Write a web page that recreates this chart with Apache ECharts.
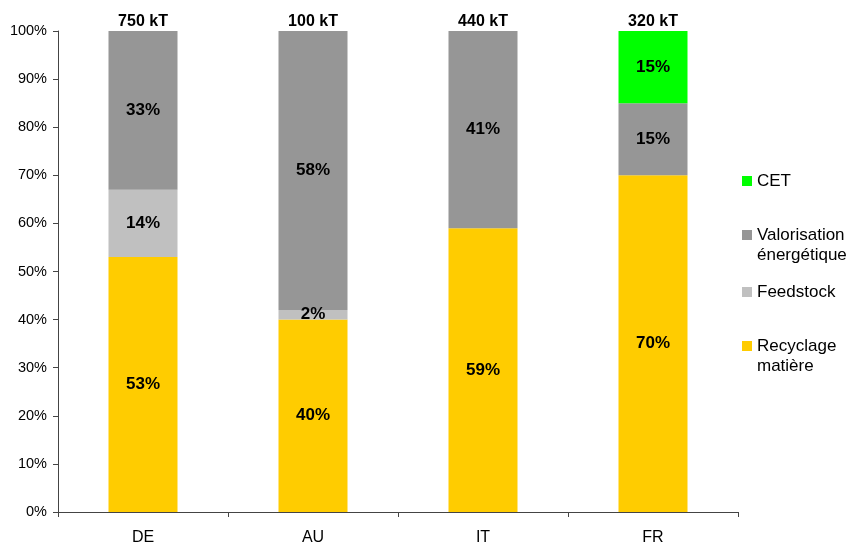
<!DOCTYPE html>
<html>
<head>
<meta charset="utf-8">
<script src="https://cdn.jsdelivr.net/npm/echarts@6/dist/echarts.min.js"></script>
<style>
  html, body { margin: 0; padding: 0; background: #fff; }
  #chart { width: 848px; height: 544px; }
</style>
</head>
<body>
<div id="chart"></div>
<script>
// Countries and total tonnage shown above each bar
const countries = ['DE', 'AU', 'IT', 'FR'];
const totals = ['750 kT', '100 kT', '440 kT', '320 kT'];

// Share of each treatment route (%), stacked bottom to top
const recyclage = [53, 40, 59, 70];
const feedstock = [14, 2, 0, 0];
const valorisation = [33, 58, 41, 15];
const cet = [0, 0, 0, 15];

const yTicks = [0, 10, 20, 30, 40, 50, 60, 70, 80, 90, 100];

const FONT = 'Liberation Sans, Arial, sans-serif';

const valueLabel = {
  show: true,
  position: 'inside',
  color: '#000',
  fontFamily: FONT,
  fontWeight: 'bold',
  fontSize: 17,
  formatter: p => (p.value ? p.value + '%' : '')
};

function barSeries(name, data, color) {
  return {
    name: name,
    type: 'bar',
    stack: 'total',
    data: data,
    barWidth: 69,
    itemStyle: { color: color },
    label: valueLabel,
    emphasis: { disabled: true }
  };
}

// One legend block per entry; two-word names wrap onto a second line,
// with a blank leading line so the swatch sits beside the first line.
function legendAt(name, top, twoLines) {
  return {
    data: [name],
    orient: 'vertical',
    left: 742,
    top: top,
    padding: 0,
    itemWidth: 10,
    itemHeight: 10,
    itemGap: 0,
    icon: 'rect',
    selectedMode: false,
    formatter: n => (twoLines ? ' \n' + n.replace(' ', '\n') : n),
    textStyle: {
      fontFamily: FONT,
      fontSize: 17,
      color: '#000',
      lineHeight: 20
    }
  };
}

const chart = echarts.init(document.getElementById('chart'), null, { renderer: 'canvas' });

chart.setOption({
  animation: false,
  grid: {
    left: 58, right: 110, top: 31, bottom: 32,
    containLabel: false,
    outerBoundsMode: 'none'
  },
  legend: [
    legendAt('CET', 171, false),
    legendAt('Valorisation énergétique', 205, true),
    legendAt('Feedstock', 282, false),
    legendAt('Recyclage matière', 316, true)
  ],
  xAxis: {
    type: 'category',
    data: countries,
    axisLine: { lineStyle: { color: '#444', width: 1 } },
    axisTick: { show: true, length: 5, alignWithLabel: false, lineStyle: { color: '#444' } },
    axisLabel: { fontFamily: FONT, fontSize: 16, color: '#000', margin: 18 }
  },
  yAxis: {
    type: 'value',
    min: 0,
    max: 100,
    interval: 10,
    splitLine: { show: false },
    axisLine: { show: true, lineStyle: { color: '#444', width: 1 } },
    axisTick: { show: true, length: 5, inside: false, lineStyle: { color: '#444' } },
    axisLabel: {
      fontFamily: FONT,
      fontSize: 14.5,
      color: '#000',
      margin: 11,
      formatter: v => (yTicks.includes(v) ? v + '%' : '')
    }
  },
  series: [
    barSeries('Recyclage matière', recyclage, '#FFCC00'),
    barSeries('Feedstock', feedstock, '#C0C0C0'),
    barSeries('Valorisation énergétique', valorisation, '#969696'),
    barSeries('CET', cet, '#00FF00'),
    {
      // totals written above each full-height bar
      name: 'totals',
      type: 'scatter',
      data: countries.map(() => 100),
      symbolSize: 0,
      silent: true,
      itemStyle: { opacity: 1 },
      label: {
        show: true,
        position: 'top',
        distance: 1,
        color: '#000',
        opacity: 1,
        fontFamily: FONT,
        fontWeight: 'bold',
        fontSize: 16,
        formatter: p => totals[p.dataIndex]
      }
    }
  ]
});
</script>
</body>
</html>
